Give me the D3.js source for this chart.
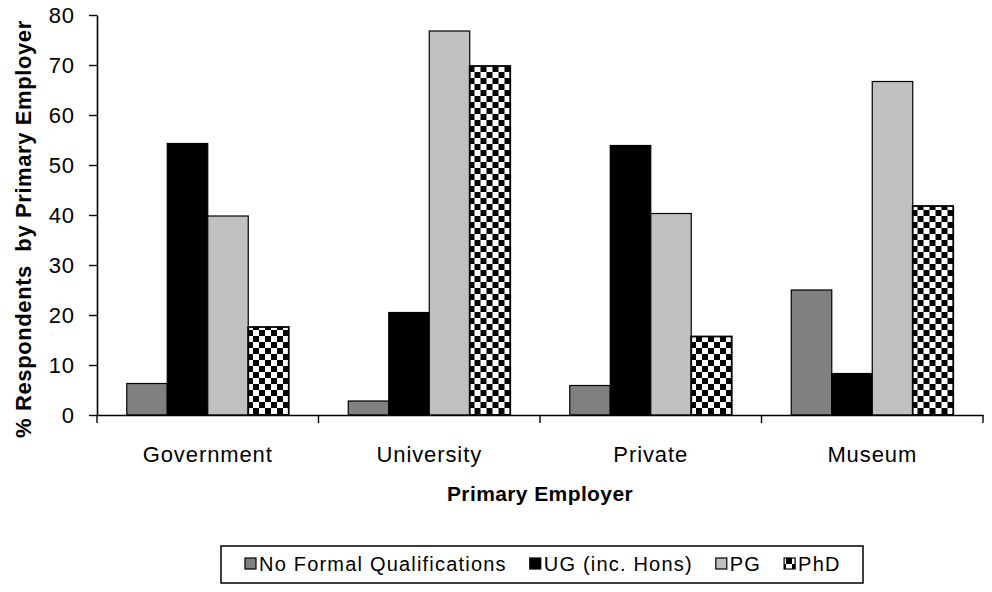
<!DOCTYPE html>
<html>
<head>
<meta charset="utf-8">
<script src="https://cdn.jsdelivr.net/npm/d3@7"></script>
<style>
  body { margin: 0; background: #fff; }
  text { font-family: "Liberation Sans", Arial, sans-serif; fill: #000; }
</style>
</head>
<body>
<div id="chart_area"></div>
<script>
const width = 992
const height = 592
const margin = {top: 15, right: 9, bottom: 177, left: 97}

// data
const categories = ["Government", "University", "Private", "Museum"]
const seriesNames = ["No Formal Qualifications", "UG (inc. Hons)", "PG", "PhD"]
const noFormal = [6.3, 2.8, 5.9, 25.0]
const ugHons = [54.3, 20.5, 53.9, 8.3]
const pgVals = [39.8, 76.8, 40.3, 66.7]
const phdVals = [17.6, 69.8, 15.7, 41.8]
const yTicks = [0, 10, 20, 30, 40, 50, 60, 70, 80]

const seriesValues = [noFormal, ugHons, pgVals, phdVals]
const fills = ["#808080", "#000000", "#c0c0c0", "url(#checker)"]

var svg = d3.select("#chart_area")
  .append("svg")
  .attr("width", width)
  .attr("height", height)

// checkerboard fill for PhD
var pat = svg.append("defs").append("pattern")
  .attr("id", "checker")
  .attr("patternUnits", "userSpaceOnUse")
  .attr("width", 12)
  .attr("height", 12)
pat.append("rect").attr("width", 12).attr("height", 12).attr("fill", "#fff")
pat.append("rect").attr("x", 0).attr("y", 0).attr("width", 6).attr("height", 6).attr("fill", "#000")
pat.append("rect").attr("x", 6).attr("y", 6).attr("width", 6).attr("height", 6).attr("fill", "#000")

var x0 = d3.scaleBand()
  .domain(categories)
  .range([margin.left, width - margin.right])

var x1 = d3.scaleBand()
  .domain(seriesNames)
  .range([0, x0.bandwidth()])
  .paddingInner(0)
  .paddingOuter(0.735)

var y = d3.scaleLinear()
  .domain([0, 80])
  .range([height - margin.bottom, margin.top])

// bars
var groups = svg.append("g")
  .selectAll("g")
  .data(categories)
  .join("g")
  .attr("transform", d => "translate(" + x0(d) + ",0)")

groups.selectAll("rect")
  .data((c, ci) => seriesNames.map((s, si) => ({s: s, si: si, v: seriesValues[si][ci]})))
  .join("rect")
  .attr("x", d => x1(d.s))
  .attr("y", d => y(d.v))
  .attr("width", x1.bandwidth())
  .attr("height", d => y(0) - y(d.v))
  .attr("fill", d => fills[d.si])
  .attr("stroke", "#000")
  .attr("stroke-width", d => d.si == 3 ? 1.8 : 1.2)

// y axis
svg.append("g")
  .attr("transform", "translate(" + margin.left + ",0)")
  .call(d3.axisLeft(y).tickValues(yTicks).tickSize(8).tickSizeOuter(0).tickPadding(14))
  .call(g => g.select(".domain").attr("stroke-width", 1.6))
  .call(g => g.selectAll(".tick line").attr("stroke-width", 1.4))
  .call(g => g.selectAll("text")
    .style("font-size", "22px")
    .style("letter-spacing", "0.9px")
    .attr("dy", "0.36em"))

// x axis: labels centred, ticks on group edges
var xAxis = svg.append("g")
  .attr("transform", "translate(0," + y(0) + ")")
  .call(d3.axisBottom(x0).tickSize(0).tickSizeOuter(0).tickPadding(31))
  .call(g => g.select(".domain").attr("stroke-width", 1.6))
  .call(g => g.selectAll("text")
    .style("font-size", "22px")
    .style("letter-spacing", "0.9px"))

var edges = categories.map(d => x0(d)).concat([x0.range()[1]])
xAxis.selectAll(".edge")
  .data(edges)
  .join("line")
  .attr("class", "edge")
  .attr("x1", d => d)
  .attr("x2", d => d)
  .attr("y1", 0)
  .attr("y2", 8)
  .attr("stroke", "#000")
  .attr("stroke-width", 1.4)

// axis titles
svg.append("text")
  .attr("x", (x0.range()[0] + x0.range()[1]) / 2)
  .attr("y", 501)
  .attr("text-anchor", "middle")
  .style("font-size", "21px")
  .style("font-weight", "bold")
  .style("letter-spacing", "0.4px")
  .text("Primary Employer")

svg.append("text")
  .attr("transform", "translate(31," + 229 + ") rotate(-90)")
  .attr("text-anchor", "middle")
  .style("font-size", "22px")
  .style("font-weight", "bold")
  .style("letter-spacing", "0.6px")
  .style("white-space", "pre")
  .text("% Respondents  by Primary Employer")

// legend
var legend = svg.append("g")
legend.append("rect")
  .attr("x", 221)
  .attr("y", 546)
  .attr("width", 642)
  .attr("height", 37)
  .attr("fill", "#fff")
  .attr("stroke", "#000")
  .attr("stroke-width", 1.5)

var lx = 245
seriesNames.forEach(function(name, i) {
  legend.append("rect")
    .attr("x", lx)
    .attr("y", 558)
    .attr("width", 11)
    .attr("height", 11)
    .attr("fill", fills[i])
    .attr("stroke", "#000")
    .attr("stroke-width", 1.2)
  var t = legend.append("text")
    .attr("x", lx + 14)
    .attr("y", 571)
    .style("font-size", "20px")
    .style("letter-spacing", "1.2px")
    .text(name)
  lx = lx + 14 + t.node().getComputedTextLength() + 23
})
</script>
</body>
</html>
